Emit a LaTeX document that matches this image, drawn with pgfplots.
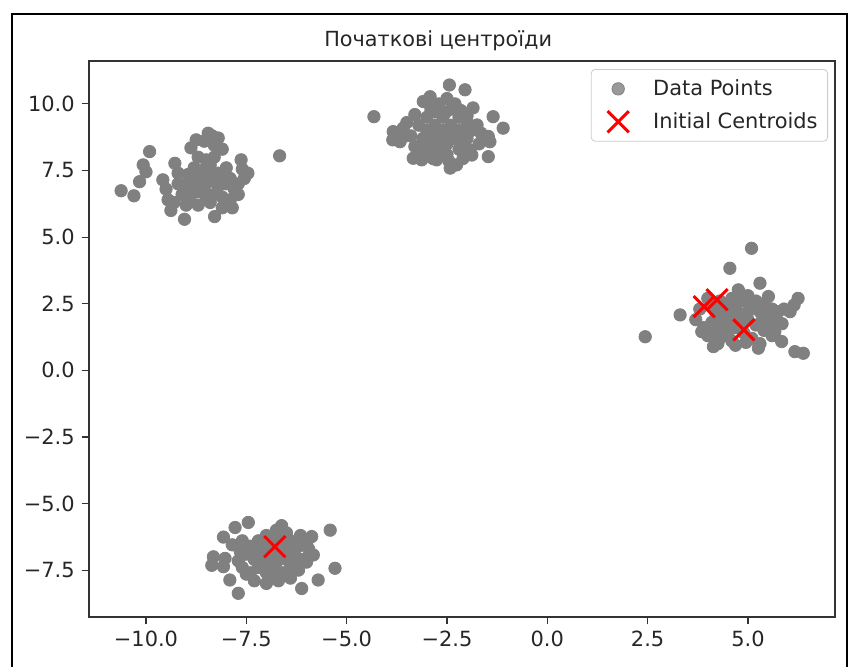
\documentclass[border=0pt]{standalone}
\usepackage{fontspec}
\setmainfont{DejaVu Sans}
\usepackage{pgfplots}
\pgfplotsset{compat=1.18}
\definecolor{mgray}{HTML}{808080}
\definecolor{spine}{HTML}{333333}
\begin{document}
\begin{tikzpicture}
\useasboundingbox (0,0) rectangle (424.5pt,333pt);
\draw[black,line width=1pt] (6pt,-5pt) |- (423.5pt,326pt) -- (423.5pt,-5pt);
\begin{axis}[
  at={(44.5pt,24.5pt)}, anchor=south west,
  scale only axis, width=373pt, height=278pt,
  xmin=-11.42, xmax=7.17, ymin=-9.26, ymax=11.61,
  axis line style={spine,line width=0.6pt},
  tick style={spine,line width=0.6pt},
  tick align=outside, major tick length=3.65pt,
  xtick pos=bottom, ytick pos=left,
  xtick={-10,-7.5,-5,-2.5,0,2.5,5},
  xticklabels={−10.0,−7.5,−5.0,−2.5,0.0,2.5,5.0},
  ytick={-7.5,-5,-2.5,0,2.5,5,7.5,10},
  yticklabels={−7.5,−5.0,−2.5,0.0,2.5,5.0,7.5,10.0},
  ticklabel style={font=\fontsize{10.46}{12.5}\selectfont, text=black!85},
  title={Початкові центроїди},
  title style={at={(0.468,1)}, anchor=base, yshift=1.5pt, font=\fontsize{10.4}{12.5}\selectfont, text=black!85},
  legend style={at={(0.9906,0.9856)}, anchor=north east, draw=black!20, rounded corners=2pt,
    fill=white, fill opacity=0.8, text opacity=1, font=\fontsize{10.46}{12.5}\selectfont,
    row sep=3pt, inner xsep=3pt, inner ysep=3pt, cells={anchor=west}, text=black!85},
  legend image code/.code={\path[draw=none,fill=none] (0pt,0pt) rectangle (26pt,0pt); \draw[#1] plot coordinates {(10.5pt,0pt)};},
]
\addplot[only marks, mark=*, mark size=3.1pt, color=mgray, mark options={draw=mgray, fill=mgray}] coordinates {
(-10.62,6.74) (-10.30,6.55) (-9.91,8.21) (-10.07,7.71) (-10.16,7.08) (-10.0,7.45) (-9.04,5.67) (-8.29,5.77)
(-7.46,7.40) (-7.63,7.90) (-7.55,7.2) (-6.67,8.05)
(-8.45,8.9) (-8.2,8.72) (-8.75,8.65) (-8.88,8.35) (-8.3,8.45) (-8.55,8.6) (-8.1,8.3) (-8.35,8.8)
(-9.28,7.77) (-9.58,7.15) (-9.45,6.4) (-9.38,6.0) (-9.5,6.8) (-9.2,7.4)
(-9.0,7.0) (-8.8,7.2) (-8.6,7.0) (-8.4,7.1) (-8.2,6.9) (-8.0,7.0) (-7.8,6.8) (-9.1,6.6) (-8.9,6.5)
(-8.7,6.7) (-8.5,6.5) (-8.3,6.6) (-8.1,6.5) (-7.9,6.4) (-8.8,7.6) (-8.6,7.5) (-8.4,7.7) (-8.2,7.4)
(-8.0,7.6) (-7.9,7.2) (-8.7,8.0) (-8.5,7.9) (-8.3,8.0) (-9.0,6.2) (-8.7,6.2) (-8.4,6.3) (-8.1,6.1)
(-7.85,6.1) (-9.2,7.0) (-8.65,7.35) (-8.35,7.3) (-8.05,7.25) (-7.7,7.0) (-7.7,6.6) (-8.9,6.9)
(-8.55,6.85) (-7.6,7.55) (-8.95,7.35) (-9.3,6.3)
(-4.32,9.52) (-2.44,10.71) (-2.05,10.53) (-3.09,10.09) (-2.92,10.27) (-1.35,9.52) (-1.10,9.09)
(-1.47,8.78) (-1.43,8.58) (-1.47,8.02) (-1.93,8.27) (-1.88,8.08) (-2.42,7.59) (-2.26,7.71)
(-3.34,7.96) (-3.13,7.9) (-3.84,8.96) (-3.59,9.09) (-3.67,8.58) (-2.76,7.9) (-1.85,9.85) (-1.75,9.21)
(-3.2,9.2) (-3.0,9.0) (-2.8,9.2) (-2.6,9.0) (-2.4,9.2) (-2.2,9.0) (-3.1,8.7) (-2.9,8.5) (-2.7,8.7)
(-2.5,8.5) (-2.3,8.7) (-2.1,8.5) (-3.0,9.5) (-2.8,9.7) (-2.6,9.5) (-2.4,9.8) (-2.2,9.5) (-2.0,9.3)
(-2.7,10.0) (-2.5,10.2) (-2.3,10.0) (-3.3,8.4) (-3.0,8.2) (-2.7,8.3) (-2.5,8.1) (-2.2,8.3) (-2.0,8.7)
(-3.4,8.8) (-3.5,9.3) (-3.3,9.6) (-2.9,9.8) (-2.55,9.65) (-2.15,9.75) (-1.9,9.0) (-2.0,9.55)
(-2.35,8.85) (-2.65,8.85) (-2.95,8.85) (-3.15,8.25) (-2.85,7.95) (-2.45,7.85) (-2.1,7.95) (-1.7,8.5)
(-1.65,8.9) (-3.6,8.75) (-3.85,8.65)
(5.09,4.58) (4.55,3.83) (5.30,3.27) (3.31,2.08) (2.44,1.26) (6.25,2.70) (6.05,2.20) (6.15,2.45)
(6.38,0.64) (6.17,0.70) (5.84,1.08) (5.67,1.45) (4.14,0.89) (5.26,0.83) (4.69,0.94) (5.51,2.77)
(4.76,3.02) (5.9,2.3)
(3.7,1.9) (3.9,1.6) (4.1,1.8) (4.3,2.0) (4.5,2.2) (4.7,2.4) (4.9,2.6) (5.1,2.4) (5.3,2.2) (5.5,2.0)
(5.7,1.8) (4.0,1.3) (4.2,1.5) (4.4,1.7) (4.6,1.9) (4.8,2.1) (5.0,1.9) (5.2,1.7) (5.4,1.5) (5.6,1.3)
(4.3,1.2) (4.5,1.4) (4.7,1.6) (4.9,1.4) (5.1,1.2) (5.3,1.0) (4.4,2.5) (4.6,2.7) (4.8,2.9) (5.0,2.8)
(5.2,2.6) (5.4,2.5) (5.6,2.3) (3.8,2.3) (4.1,2.4) (4.3,2.6) (4.0,2.7) (5.0,2.2) (4.85,1.75)
(5.35,1.85) (5.75,2.2) (4.6,1.1) (4.95,1.05) (3.85,1.45) (4.25,1.0) (5.5,1.7) (5.85,1.75) (4.2,2.15)
(-7.45,-5.71) (-7.78,-5.90) (-8.07,-6.26) (-6.62,-5.83) (-5.41,-6.00) (-8.32,-7.0) (-8.36,-7.32)
(-8.03,-7.06) (-8.07,-7.37) (-7.91,-7.87) (-7.70,-8.37) (-6.12,-8.19) (-5.71,-7.87) (-5.29,-7.43)
(-5.87,-6.24) (-5.83,-6.93) (-6.75,-6.0) (-6.5,-6.1)
(-7.6,-6.4) (-7.4,-6.6) (-7.2,-6.4) (-7.0,-6.6) (-6.8,-6.4) (-6.6,-6.6) (-6.4,-6.4) (-6.2,-6.6)
(-6.0,-6.5) (-7.5,-6.9) (-7.3,-7.1) (-7.1,-6.9) (-6.9,-7.1) (-6.7,-6.9) (-6.5,-7.1) (-6.3,-6.9)
(-6.1,-7.1) (-7.6,-7.4) (-7.4,-7.6) (-7.2,-7.4) (-7.0,-7.6) (-6.8,-7.4) (-6.6,-7.6) (-6.4,-7.4)
(-6.2,-7.5) (-7.3,-7.9) (-7.0,-8.0) (-6.7,-7.9) (-6.4,-7.8) (-7.65,-6.8) (-6.0,-7.2) (-5.95,-6.7)
(-7.85,-6.55) (-7.0,-6.2) (-6.6,-6.25) (-6.15,-6.2) (-7.7,-7.15) (-6.85,-6.75) (-7.25,-6.75)
(-6.45,-6.75) (-7.1,-7.25) (-6.75,-7.2) (-6.35,-7.25) (-7.5,-7.65) (-6.9,-7.75) (-6.55,-7.7)
};
\addlegendentry{Data Points}
\addplot[only marks, mark=x, mark size=7.5pt, color=red, mark options={draw=red, line width=1.5pt}] coordinates {
(-6.79,-6.62) (3.91,2.39) (4.23,2.65) (4.90,1.52)
};
\addlegendentry{Initial Centroids}
\end{axis}
\end{tikzpicture}
\end{document}
